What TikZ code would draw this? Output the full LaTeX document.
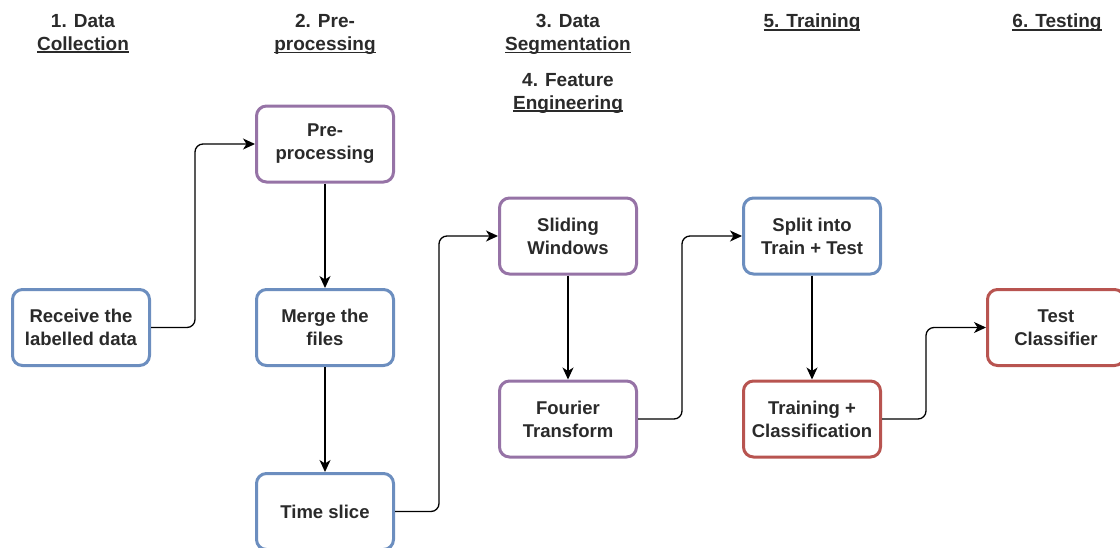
\documentclass[tikz,border=0pt]{standalone}
\usepackage{fontspec}
\setmainfont{Liberation Sans}
\usetikzlibrary{arrows.meta}
\definecolor{ioblue}{HTML}{6C8EBF}
\definecolor{iopurple}{HTML}{9673A6}
\definecolor{iored}{HTML}{B85450}
\definecolor{inktext}{HTML}{2A2A2A}
% underline drawn as a thin rule under the word
\newcommand\hdul[1]{\leavevmode\setbox0\hbox{#1}\rlap{\rule[-2.6pt]{\wd0}{1.4pt}}\box0}
\tikzset{
  stagebox/.style={draw, line width=3pt, rounded corners=10pt, fill=white,
    minimum width=137pt, minimum height=76pt, align=center, inner sep=2pt,
    text=inktext, font=\fontsize{18.5}{23}\selectfont\bfseries},
  bluebox/.style={stagebox, draw=ioblue},
  purplebox/.style={stagebox, draw=iopurple},
  redbox/.style={stagebox, draw=iored},
  header/.style={anchor=north, align=center, inner sep=0pt, text=inktext,
    font=\fontsize{19}{23}\selectfont\bfseries},
  conn/.style={draw=black, line width=1.3pt, rounded corners=8pt,
    -{Stealth[length=12pt,width=11pt,inset=3.5pt]}},
}
\begin{document}
\begin{tikzpicture}[x=1pt,y=-1pt]
\useasboundingbox (0,0) rectangle (1120,547);

% stage headings
\node[header] (h1) at (83,14) {1. Data\\\hdul{Collection}};
\node[header] (h2) at (325,14) {2. Pre-\\\hdul{processing}};
\node[header] (h3) at (568,14) {3. Data\\\hdul{Segmentation}};
\node[header] (h4) at (568,73) {4. Feature\\\hdul{Engineering}};
\node[header] (h5) at (812,14) {\hdul{5. Training}};
\node[header] (h6) at (1057,14) {\hdul{6. Testing}};

% process steps
\node[bluebox]   (rec)   at (81,327.5)   {Receive the\\labelled data};
\node[purplebox] (pre)   at (325,144)    {Pre-\\processing};
\node[bluebox]   (merge) at (325,327.5)  {Merge the\\files};
\node[bluebox]   (slice) at (325,511.5)  {Time slice};
\node[purplebox] (slide) at (568,236)    {Sliding\\Windows};
\node[purplebox] (four)  at (568,419)    {Fourier\\Transform};
\node[bluebox]   (split) at (812,236)    {Split into\\Train + Test};
\node[redbox]    (train) at (812,419)    {Training +\\Classification};
\node[redbox]    (test)  at (1056,327.5) {Test\\Classifier};

% connectors
\draw[conn] (rec.east) -- ++(44,0) |- (pre.west);
\draw[conn] (pre) -- (merge);
\draw[conn] (merge) -- (slice);
\draw[conn] (slice.east) -- ++(44,0) |- (slide.west);
\draw[conn] (slide) -- (four);
\draw[conn] (four.east) -- ++(44,0) |- (split.west);
\draw[conn] (split) -- (train);
\draw[conn] (train.east) -- ++(44,0) |- (test.west);
\end{tikzpicture}
\end{document}
